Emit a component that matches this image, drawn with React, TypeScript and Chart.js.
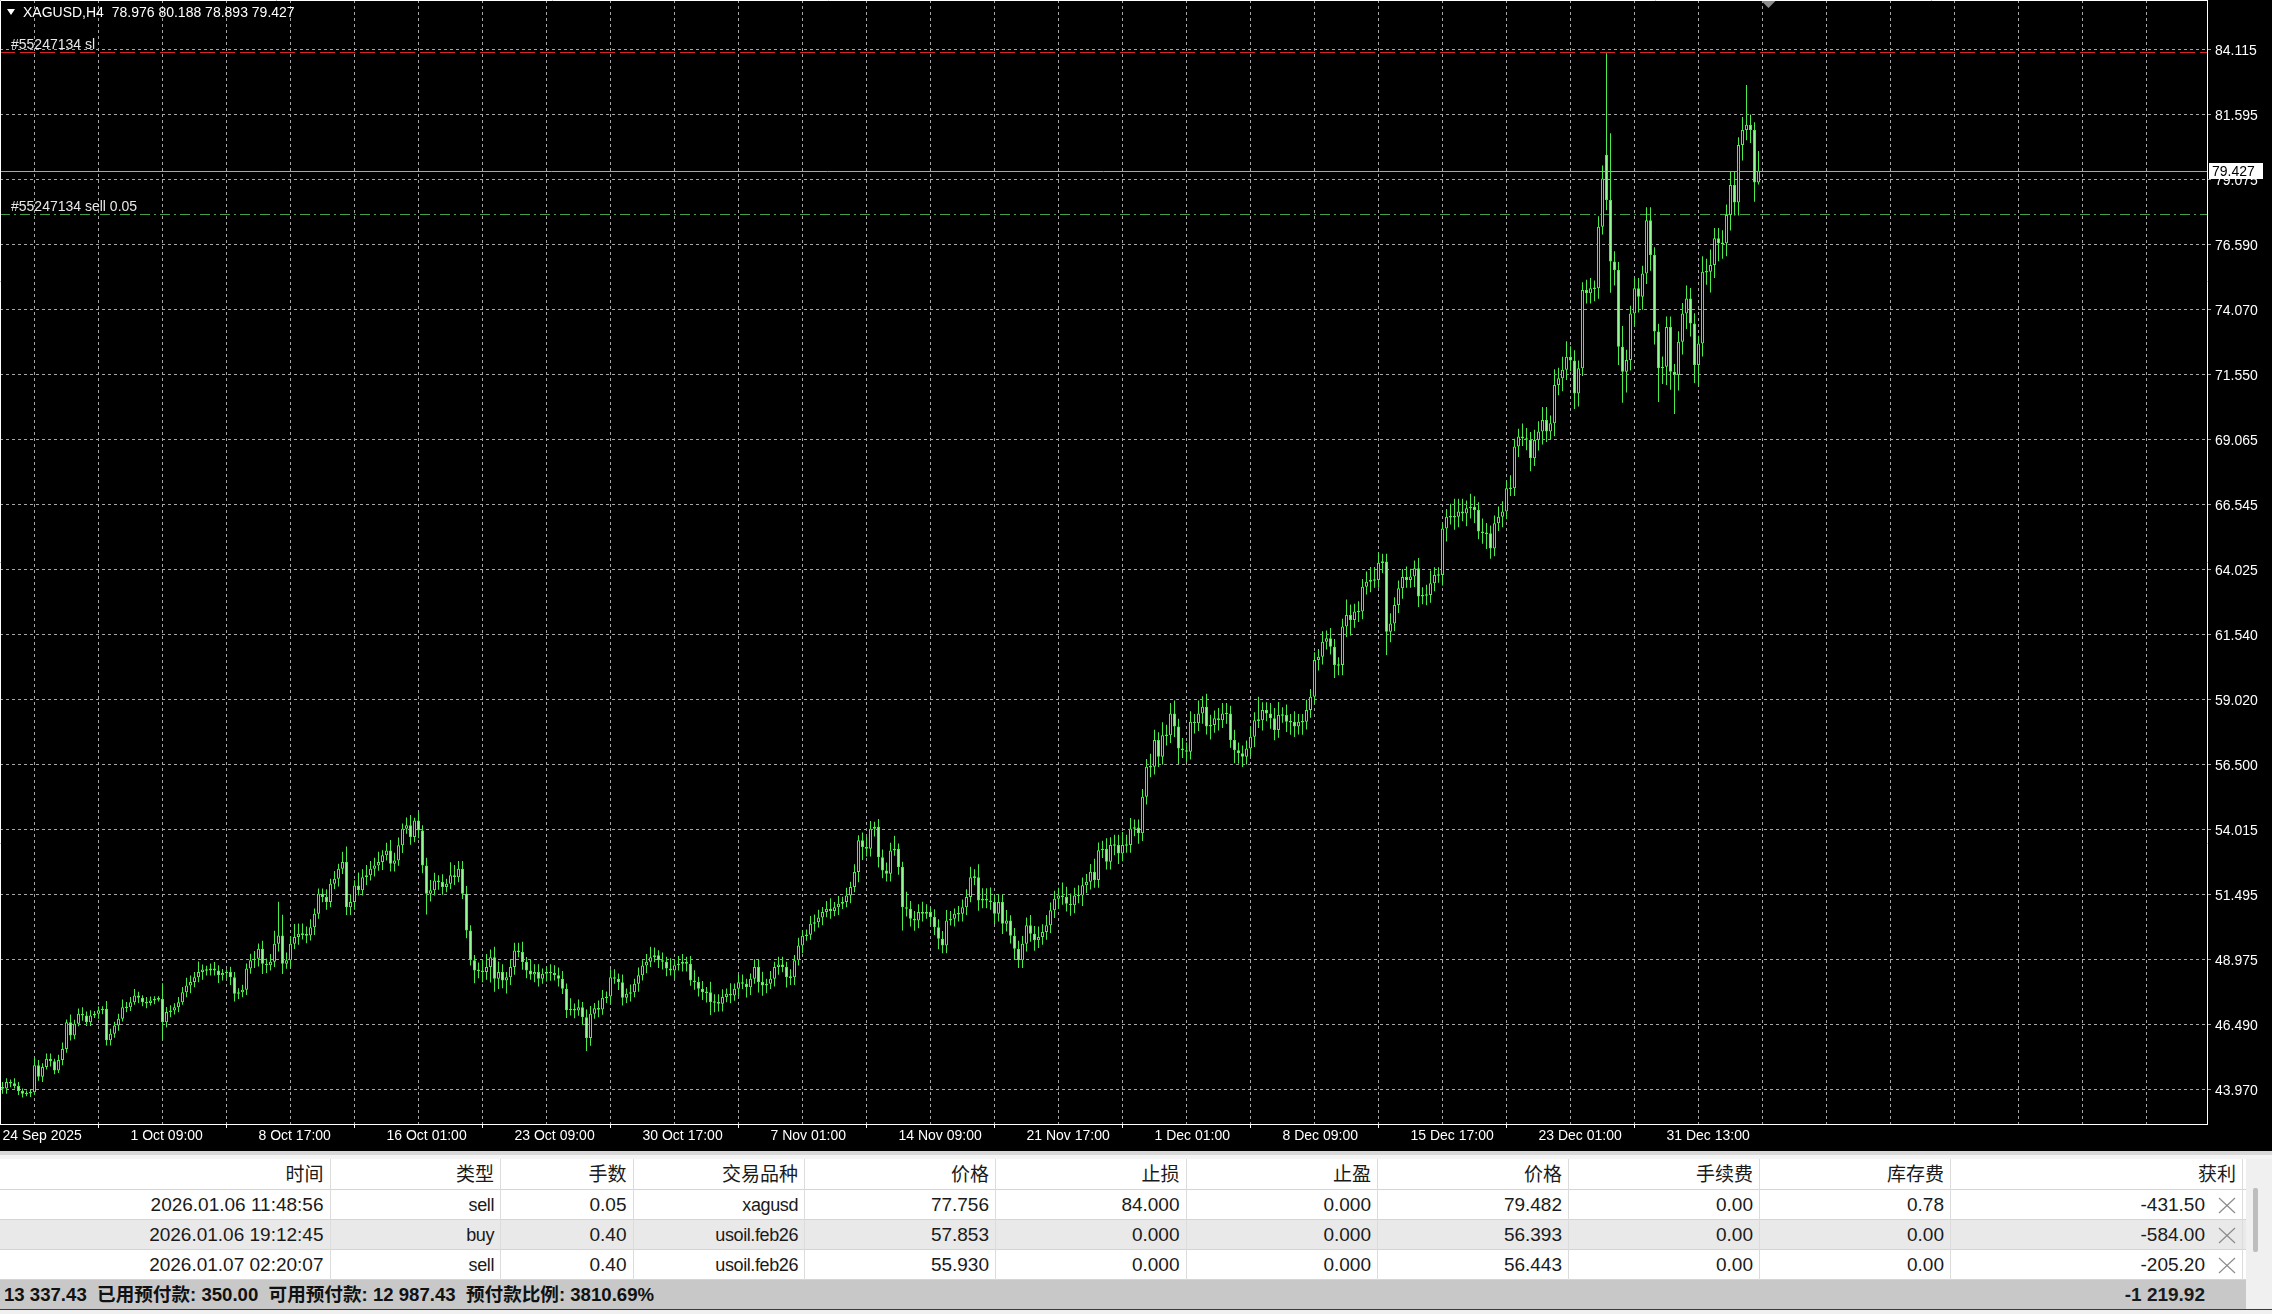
import React, { useEffect, useRef } from 'react';
import { Chart, registerables } from 'chart.js';
Chart.register(...registerables);

// ---------- DATA (XAGUSD, H4) ----------
const closes = [
  44.00,44.25,44.20,44.10,43.90,43.80,43.82,43.86,44.90,44.45,44.83,45.15,45.05,44.70,45.10,45.53,46.56,46.05,46.50,46.89,
  46.82,46.56,46.82,46.89,47.02,47.08,45.86,46.11,46.43,46.69,47.14,47.14,47.33,47.59,47.50,47.33,47.30,47.40,47.46,47.46,
  46.56,46.95,47.01,47.14,47.33,47.72,47.98,48.11,48.30,48.50,48.59,48.56,48.63,48.56,48.37,48.46,48.50,48.30,47.66,47.72,
  47.81,48.63,48.95,49.01,49.40,48.82,48.76,48.89,49.59,49.91,48.82,48.95,49.59,49.85,49.97,49.95,49.91,50.23,50.75,51.52,
  51.39,51.20,51.90,52.10,52.48,52.74,51.00,51.20,51.84,51.65,52.16,52.23,52.48,52.61,52.74,53.00,53.19,52.68,52.80,53.39,
  54.03,54.16,53.71,54.35,53.96,52.61,51.52,51.65,52.03,51.97,51.78,51.90,52.23,52.16,52.48,51.52,50.10,48.95,48.56,48.56,
  48.50,48.69,49.07,48.24,48.50,48.17,48.30,48.69,49.33,49.27,48.88,48.56,48.40,48.50,48.24,48.43,48.50,48.46,48.37,48.24,
  47.85,47.02,47.08,47.01,47.14,46.75,45.95,46.89,47.10,47.05,47.50,47.55,48.30,48.24,48.10,47.50,47.66,47.72,48.04,48.37,
  48.75,48.89,49.07,49.14,48.95,48.89,48.63,48.56,48.76,48.82,48.89,48.82,48.17,48.11,47.85,47.72,47.72,47.34,47.34,47.27,
  47.53,47.66,47.59,47.85,48.10,48.04,47.91,48.24,48.69,48.11,47.98,48.04,48.24,48.69,48.79,48.69,48.30,48.30,48.95,49.52,
  49.90,49.94,50.36,50.42,50.60,50.81,50.94,50.85,51.00,51.13,51.20,51.45,51.78,52.36,53.58,53.32,53.26,54.03,54.10,52.93,
  52.42,52.29,53.19,53.26,52.55,51.00,50.94,50.55,50.49,50.81,50.75,50.81,50.62,50.23,49.78,49.52,50.49,50.55,50.75,50.75,
  51.00,51.39,52.16,52.16,51.26,51.33,51.26,51.20,50.75,51.20,50.36,50.49,49.90,49.40,48.95,49.59,50.30,49.97,49.72,49.85,
  50.04,50.30,50.88,51.33,51.45,51.39,51.13,51.07,51.45,51.45,51.85,51.98,52.37,52.05,53.20,53.26,52.75,53.40,53.40,53.07,
  53.40,53.40,54.04,54.08,53.85,55.26,56.42,56.42,57.45,56.81,57.64,57.64,58.48,57.97,57.13,57.06,57.00,58.16,58.10,58.48,
  58.74,57.97,58.03,58.29,58.22,58.48,58.48,57.45,57.06,56.94,56.81,57.13,57.58,58.22,58.22,58.61,58.48,58.29,57.84,58.42,
  58.42,58.16,58.16,57.97,58.16,58.16,58.61,59.12,60.54,60.67,61.25,61.38,61.05,60.35,60.35,61.83,62.28,62.09,62.41,62.41,
  63.37,63.56,63.63,63.63,64.30,64.34,61.63,61.95,62.66,63.31,63.75,63.63,63.76,64.08,62.99,63.05,63.05,63.50,63.82,63.82,
  65.62,66.07,66.07,66.07,66.27,66.20,66.40,66.46,66.33,65.50,65.43,65.43,64.85,65.82,66.07,66.27,67.17,67.17,68.78,69.17,
  69.10,69.04,68.33,69.03,69.36,69.81,69.36,69.68,71.16,71.42,71.75,72.25,72.10,70.83,71.80,74.82,74.70,74.89,74.89,77.27,
  79.13,78.30,75.92,75.60,72.63,71.67,72.12,73.92,74.89,74.56,75.46,77.52,76.17,73.22,71.80,71.86,73.40,71.67,71.54,72.83,
  73.92,74.50,73.53,71.93,72.76,75.53,75.53,75.79,76.82,76.63,76.63,77.72,78.88,78.20,80.42,81.00,81.20,81.00,78.976,79.427,
];
// upper wick length above the body (price units)
const wickUp = [
  0.2,0.15,0.1,0.2,0.15,0.1,0.1,0.1,0.3,0.2,0.15,0.2,0.2,0.1,0.2,0.25,0.1,0.3,0.15,0.2,
  0.25,0.15,0.2,0.1,0.15,0.1,0.3,0.2,0.15,0.2,0.3,0.2,0.2,0.25,0.15,0.1,0.2,0.15,0.1,0.1,
  0.6,0.2,0.2,0.15,0.2,0.2,0.3,0.25,0.2,0.4,0.2,0.15,0.2,0.25,0.2,0.15,0.1,0.2,0.2,0.15,
  0.2,0.2,0.25,0.3,0.2,0.3,0.2,0.3,0.5,1.3,0.8,0.3,0.3,0.5,0.4,0.4,0.3,0.3,0.2,0.2,
  0.2,0.3,0.2,0.3,0.2,0.4,0.6,0.3,0.2,0.5,0.3,0.4,0.3,0.3,0.4,0.2,0.3,0.4,0.3,0.3,
  0.2,0.3,0.4,0.1,0.3,0.2,0.3,0.4,0.3,0.2,0.3,0.2,0.5,0.4,0.3,0.3,0.3,0.2,0.2,0.3,
  0.4,0.5,0.3,0.4,0.4,0.3,0.2,0.3,0.3,0.3,0.4,0.2,0.4,0.3,0.3,0.2,0.2,0.3,0.3,0.3,
  0.3,0.2,0.4,0.2,0.3,0.2,0.3,0.3,0.2,0.3,0.3,0.2,0.3,0.3,0.2,0.3,0.2,0.3,0.2,0.3,
  0.2,0.3,0.4,0.3,0.2,0.3,0.2,0.4,0.2,0.3,0.3,0.2,0.3,0.4,0.2,0.3,0.2,0.4,0.3,0.3,
  0.3,0.2,0.4,0.2,0.3,0.3,0.2,0.2,0.3,0.3,0.4,0.2,0.3,0.2,0.3,0.3,0.2,0.3,0.2,0.3,
  0.2,0.2,0.3,0.3,0.3,0.2,0.3,0.4,0.2,0.3,0.2,0.3,0.2,0.3,0.2,0.3,0.4,0.3,0.2,0.3,
  0.3,0.3,0.3,0.5,0.2,0.2,0.6,0.3,0.3,0.3,0.4,0.3,0.2,0.3,0.3,0.3,0.4,0.3,0.2,0.3,
  0.3,0.3,0.4,0.3,0.5,0.4,0.4,0.5,0.3,0.3,0.3,0.4,0.2,0.3,0.3,0.3,0.3,0.4,0.3,0.4,
  0.3,0.4,0.3,0.3,0.3,0.5,0.4,0.4,0.3,0.4,0.3,0.3,0.3,0.5,0.3,0.3,0.4,0.3,0.4,0.4,
  0.5,0.4,0.4,0.3,0.3,0.3,0.3,0.5,0.4,0.3,0.5,0.4,0.4,0.5,0.3,0.4,0.3,0.4,0.3,0.5,
  0.4,0.5,0.4,0.3,0.4,0.4,0.4,0.3,0.4,0.3,0.3,0.3,0.4,0.3,0.9,0.3,0.3,0.4,0.4,0.5,
  0.3,0.4,0.3,0.4,0.3,0.3,0.4,0.3,0.3,0.3,0.4,0.3,0.4,0.3,0.3,0.3,0.6,0.4,0.3,0.4,
  0.3,0.4,0.5,0.5,0.4,0.3,0.3,0.4,0.3,0.3,0.3,0.4,0.3,0.3,0.4,0.3,0.4,0.5,0.3,0.3,
  0.2,0.3,0.5,0.7,0.5,0.5,0.3,0.5,0.4,0.3,0.5,0.4,0.3,0.3,0.4,0.4,0.3,0.5,0.3,0.3,
  0.5,0.4,0.3,0.4,0.4,0.5,0.5,0.3,0.6,0.4,0.5,0.6,0.4,0.4,0.3,0.3,0.4,0.4,0.3,0.4,
  0.5,3.92,2.57,0.4,0.3,0.8,0.4,0.3,0.4,0.4,0.3,0.5,0.5,0.3,0.3,0.4,0.4,0.4,0.3,0.4,
  0.4,0.5,0.4,0.4,0.3,0.6,0.5,0.6,0.4,0.4,0.5,0.4,0.5,0.5,0.3,0.5,1.54,0.4,0.3,0.761,
];
// lower wick length below the body (price units)
const wickDn = [
  0.2,0.2,0.15,0.1,0.15,0.15,0.1,0.15,0.1,0.15,0.2,0.1,0.2,0.15,0.1,0.2,0.15,0.2,0.15,0.1,
  0.2,0.15,0.15,0.1,0.2,0.15,0.2,0.2,0.15,0.2,0.1,0.2,0.15,0.1,0.2,0.15,0.2,0.1,0.15,0.1,
  0.7,0.2,0.2,0.15,0.2,0.1,0.2,0.3,0.2,0.2,0.3,0.2,0.2,0.2,0.3,0.2,0.2,0.3,0.3,0.2,
  0.2,0.2,0.2,0.3,0.3,0.4,0.3,0.2,0.2,0.3,0.4,0.2,0.3,0.2,0.3,0.2,0.3,0.2,0.3,0.2,
  0.2,0.3,0.2,0.2,0.3,0.2,0.3,0.3,0.3,0.2,0.2,0.3,0.2,0.3,0.2,0.3,0.2,0.3,0.3,0.2,
  0.3,0.2,0.3,0.2,0.3,0.3,0.8,0.3,0.2,0.3,0.3,0.2,0.2,0.3,0.2,0.2,0.3,0.2,0.5,0.3,
  0.4,0.3,0.6,0.5,0.4,0.3,0.5,0.3,0.3,0.2,0.3,0.3,0.2,0.3,0.3,0.2,0.3,0.3,0.2,0.3,
  0.2,0.3,0.2,0.3,0.2,0.3,0.5,0.3,0.2,0.3,0.2,0.2,0.3,0.2,0.3,0.3,0.2,0.3,0.2,0.3,
  0.2,0.3,0.2,0.2,0.3,0.3,0.3,0.2,0.3,0.2,0.3,0.3,0.2,0.3,0.3,0.3,0.4,0.5,0.4,0.3,
  0.3,0.2,0.3,0.2,0.3,0.2,0.4,0.3,0.2,0.4,0.4,0.3,0.2,0.3,0.3,0.2,0.4,0.3,0.3,0.2,
  0.3,0.2,0.2,0.3,0.2,0.3,0.2,0.3,0.2,0.3,0.2,0.2,0.3,0.2,0.4,0.5,0.3,0.3,0.3,0.4,
  0.3,0.3,0.3,0.2,0.3,0.9,0.3,0.3,0.4,0.3,0.3,0.2,0.3,0.3,0.4,0.3,0.3,0.2,0.3,0.3,
  0.3,0.3,0.2,0.3,0.4,0.3,0.3,0.3,0.4,0.3,0.4,0.3,0.3,0.4,0.3,0.3,0.3,0.3,0.4,0.3,
  0.3,0.3,0.3,0.3,0.4,0.3,0.3,0.4,0.3,0.3,0.4,0.3,0.3,0.3,0.3,0.3,0.3,0.3,0.4,0.4,
  0.3,0.3,0.3,0.3,0.4,0.3,0.3,0.4,0.3,0.4,0.3,0.4,0.3,0.4,0.6,0.3,0.4,0.3,0.4,0.3,
  0.4,0.3,0.5,0.3,0.4,0.3,0.4,0.3,0.5,0.4,0.4,0.3,0.3,0.4,0.3,0.4,0.3,0.4,0.4,0.3,
  0.3,0.4,0.5,0.4,0.3,0.5,0.3,0.3,0.3,0.4,0.3,0.3,0.3,0.5,0.4,0.4,0.4,0.6,0.3,0.4,
  0.3,0.3,0.4,0.3,0.3,0.4,0.9,0.4,0.3,0.3,0.4,0.3,0.3,0.4,0.4,0.3,0.4,0.3,0.3,0.3,
  0.4,0.5,0.3,0.5,0.4,0.3,0.5,0.4,0.5,0.3,0.4,0.6,0.4,0.3,0.3,0.4,0.3,0.3,0.3,0.4,
  0.3,0.4,0.5,0.3,0.4,0.5,0.4,0.3,0.5,0.4,0.5,0.4,0.4,0.6,0.5,0.3,0.4,0.4,0.5,0.4,
  0.3,0.4,1.2,0.6,0.7,1.2,0.8,0.4,0.5,0.6,0.5,0.4,0.6,0.5,1.3,0.6,0.7,0.7,1.5,0.6,
  0.5,0.6,0.5,0.7,0.8,0.5,0.5,0.8,0.5,0.7,0.6,0.5,0.6,0.5,0.5,0.6,0.4,0.5,0.75,0.083,
];
const firstOpen = 44.05;
// bars that opened with a gap (open != previous close)
const gapOpens: Record<number, number> = { 401: 80.04 };

const xTickLabels = ['24 Sep 2025', '1 Oct 09:00', '8 Oct 17:00', '16 Oct 01:00', '23 Oct 09:00', '30 Oct 17:00', '7 Nov 01:00', '14 Nov 09:00', '21 Nov 17:00', '1 Dec 01:00', '8 Dec 09:00', '15 Dec 17:00', '23 Dec 01:00', '31 Dec 13:00'];
const yTickLabels = ['84.115', '81.595', '79.075', '76.590', '74.070', '71.550', '69.065', '66.545', '64.025', '61.540', '59.020', '56.500', '54.015', '51.495', '48.975', '46.490', '43.970'];
const BARS_PER_LABEL = 32;
const BARS_PER_GRID = 16;
const TOTAL_SLOTS = 551.75;

const headerText = 'XAGUSD,H4  78.976 80.188 78.893 79.427';
const slPrice = 84.0;
const slLabel = '#55247134 sl';
const openPrice = 77.756;
const openLabel = '#55247134 sell 0.05';
const bidPrice = 79.427;

const colHeaders = ['时间', '类型', '手数', '交易品种', '价格', '止损', '止盈', '价格', '手续费', '库存费', '获利'];
const orderTimes = ['2026.01.06 11:48:56', '2026.01.06 19:12:45', '2026.01.07 02:20:07'];
const orderTypes = ['sell', 'buy', 'sell'];
const orderLots = ['0.05', '0.40', '0.40'];
const orderSymbols = ['xagusd', 'usoil.feb26', 'usoil.feb26'];
const orderOpen = ['77.756', '57.853', '55.930'];
const orderSL = ['84.000', '0.000', '0.000'];
const orderTP = ['0.000', '0.000', '0.000'];
const orderPrice = ['79.482', '56.393', '56.443'];
const orderComm = ['0.00', '0.00', '0.00'];
const orderSwap = ['0.78', '0.00', '0.00'];
const orderProfit = ['-431.50', '-584.00', '-205.20'];
const footerSummary = '13 337.43  已用预付款: 350.00  可用预付款: 12 987.43  预付款比例: 3810.69%';
const footerProfit = '-1 219.92';

// ---------- derived candle table ----------
const opens = closes.map((c, i) => (gapOpens[i] !== undefined ? gapOpens[i] : i === 0 ? firstOpen : closes[i - 1]));
const highs = closes.map((c, i) => Math.max(opens[i], c) + wickUp[i]);
const lows = closes.map((c, i) => Math.min(opens[i], c) - wickDn[i]);

const GREEN = '#4aec4a';
const FILL = '#94fa94';
const GRID = '#a6a6a6';
const FONT = '"Liberation Sans", Arial, sans-serif';

const yStep = (parseFloat(yTickLabels[0]) - parseFloat(yTickLabels[yTickLabels.length - 1])) / (yTickLabels.length - 1);
const yTop = parseFloat(yTickLabels[0]);
const CANVAS_W = 2272;
const CANVAS_H = 1151;
const PLOT_RIGHT = 2207;
const PLOT_BOTTOM = 1124;
const TICK_GAP_PX = 65;
const FIRST_TICK_PX = 49.3;
const pxPerUnit = TICK_GAP_PX / yStep;
const Y_MAX = yTop + FIRST_TICK_PX / pxPerUnit;
const Y_MIN = Y_MAX - PLOT_BOTTOM / pxPerUnit;

const mtPlugin = {
  id: 'mt4',
  beforeDraw(chart: any) {
    const { ctx, width, height } = chart;
    ctx.save();
    ctx.fillStyle = '#000';
    ctx.fillRect(0, 0, width, height);
    ctx.restore();
  },
  beforeDatasetsDraw(chart: any) {
    const { ctx, chartArea } = chart;
    const y = chart.scales.y;
    ctx.save();
    ctx.lineWidth = 1;
    // stop loss
    const ySl = Math.round(y.getPixelForValue(slPrice)) + 0.5;
    ctx.strokeStyle = '#d82424';
    ctx.setLineDash([15, 5]);
    ctx.beginPath(); ctx.moveTo(chartArea.left, ySl); ctx.lineTo(chartArea.right, ySl); ctx.stroke();
    // order open
    const yOp = Math.round(y.getPixelForValue(openPrice)) + 0.5;
    ctx.strokeStyle = '#45a045';
    ctx.setLineDash([10, 4, 2, 4]);
    ctx.beginPath(); ctx.moveTo(chartArea.left, yOp); ctx.lineTo(chartArea.right, yOp); ctx.stroke();
    // bid
    const yB = Math.round(y.getPixelForValue(bidPrice)) + 0.5;
    ctx.strokeStyle = '#a8a8a8';
    ctx.setLineDash([]);
    ctx.beginPath(); ctx.moveTo(chartArea.left, yB); ctx.lineTo(chartArea.right, yB); ctx.stroke();
    // labels
    ctx.fillStyle = '#e8e8e8';
    ctx.font = `14px ${FONT}`;
    ctx.textBaseline = 'alphabetic';
    ctx.textAlign = 'left';
    ctx.fillText(slLabel, 11, ySl - 4);
    ctx.fillText(openLabel, 11, yOp - 4);
    ctx.restore();
  },
  afterDraw(chart: any) {
    const { ctx, chartArea } = chart;
    const x = chart.scales.x;
    const y = chart.scales.y;
    ctx.save();
    // frame
    ctx.strokeStyle = '#ffffff';
    ctx.lineWidth = 1;
    ctx.beginPath();
    ctx.moveTo(0.5, chartArea.bottom + 0.5);
    ctx.lineTo(0.5, 0.5);
    ctx.lineTo(chartArea.right + 0.5, 0.5);
    ctx.stroke();
    // header
    ctx.fillStyle = '#ffffff';
    ctx.beginPath();
    ctx.moveTo(7, 9); ctx.lineTo(15, 9); ctx.lineTo(11, 15); ctx.closePath(); ctx.fill();
    ctx.font = `14px ${FONT}`;
    ctx.textBaseline = 'middle';
    ctx.textAlign = 'left';
    ctx.fillText(headerText, 23, 13);
    // bid price box on the axis
    const yB = Math.round(y.getPixelForValue(bidPrice));
    ctx.fillStyle = '#ffffff';
    ctx.fillRect(chartArea.right + 2, yB - 8, 54, 16);
    ctx.fillStyle = '#000000';
    ctx.fillText(bidPrice.toFixed(3), chartArea.right + 5, yB + 1);
    // chart shift marker
    const xs = x.getPixelForValue(closes.length + 1.5);
    ctx.fillStyle = '#8a8a8a';
    ctx.beginPath();
    ctx.moveTo(xs - 7, 1); ctx.lineTo(xs + 7, 1); ctx.lineTo(xs, 8); ctx.closePath(); ctx.fill();
    ctx.restore();
  },
};

function buildConfig(): any {
  const bodyData = closes.map((c, i) => {
    const lo = Math.min(opens[i], c);
    const hi = Math.max(opens[i], c);
    const mid = (lo + hi) / 2;
    return { x: i, y: hi - lo < 0.06 ? [mid - 0.03, mid + 0.03] : [lo, hi] };
  });
  const wickData = closes.map((c, i) => ({ x: i, y: [lows[i], highs[i]] }));
  const gridTicks: number[] = [];
  for (let v = 0; v <= TOTAL_SLOTS; v += BARS_PER_GRID) gridTicks.push(v);
  const labelAt = (v: number) => (v % BARS_PER_LABEL === 0 ? xTickLabels[v / BARS_PER_LABEL] : undefined);

  return {
    type: 'bar',
    data: {
      datasets: [
        {
          label: 'body',
          data: bodyData,
          barThickness: 3,
          borderWidth: 1,
          borderSkipped: false,
          inflateAmount: 0,
          grouped: false,
          borderColor: GREEN,
          backgroundColor: (ctx: any) => {
            const i = ctx.dataIndex;
            if (i === undefined) return '#000';
            return closes[i] >= opens[i] ? '#000000' : FILL;
          },
        },
        {
          label: 'wick',
          data: wickData,
          barThickness: 1,
          borderWidth: 0,
          inflateAmount: 0,
          grouped: false,
          backgroundColor: GREEN,
        },
      ],
    },
    options: {
      responsive: false,
      maintainAspectRatio: false,
      animation: false,
      devicePixelRatio: 1,
      events: [],
      layout: { padding: 0 },
      plugins: { legend: { display: false }, tooltip: { enabled: false } },
      scales: {
        x: {
          type: 'linear',
          position: 'bottom',
          min: -0.625,
          max: -0.625 + TOTAL_SLOTS,
          offset: false,
          afterBuildTicks: (s: any) => { s.ticks = gridTicks.map((v) => ({ value: v })); },
          afterFit: (s: any) => {
            s.height = CANVAS_H - PLOT_BOTTOM;
            s.paddingLeft = 0; s.paddingRight = 0; s.paddingTop = 0; s.paddingBottom = 0;
          },
          ticks: {
            autoSkip: false,
            maxRotation: 0,
            minRotation: 0,
            align: 'start',
            padding: 0,
            color: '#ffffff',
            font: { family: FONT, size: 14 },
            callback: (v: number) => labelAt(v) ?? '',
          },
          grid: {
            color: (c: any) => (c.tick && c.tick.value === 0 ? 'rgba(0,0,0,0)' : GRID),
            lineWidth: 1,
            tickLength: 4,
            tickColor: (c: any) => (c.tick && labelAt(c.tick.value) !== undefined ? '#ffffff' : 'rgba(0,0,0,0)'),
          },
          border: { display: true, color: '#ffffff', width: 1, dash: [3, 3] },
        },
        y: {
          type: 'linear',
          position: 'right',
          min: Y_MIN,
          max: Y_MAX,
          afterBuildTicks: (s: any) => {
            s.ticks = yTickLabels.map((_, k) => ({ value: yTop - (yTickLabels.length - 1 - k) * yStep }));
          },
          afterFit: (s: any) => {
            s.width = CANVAS_W - PLOT_RIGHT;
            s.paddingLeft = 0; s.paddingRight = 0; s.paddingTop = 0; s.paddingBottom = 0;
          },
          ticks: {
            padding: 4,
            labelOffset: 2,
            color: '#ffffff',
            font: { family: FONT, size: 14 },
            callback: (v: number) => yTickLabels[Math.round((yTop - v) / yStep)] ?? '',
          },
          grid: { color: GRID, lineWidth: 1, tickLength: 4, tickColor: GRID },
          border: { display: true, color: '#ffffff', width: 1, dash: [3, 3] },
        },
      },
    },
    plugins: [mtPlugin],
  };
}

// ---------- table layout ----------
const colEdges = [0, 329.5, 500, 632.5, 804, 995, 1185.5, 1377, 1568, 1759, 1950, 2242];
const ROW_TOPS = [1190, 1220, 1250];
const ROW_BGS = ['#ffffff', '#e9e9e9', '#ffffff'];
const TABLE_FONT = '"Liberation Sans", "Noto Sans CJK SC", Arial, sans-serif';
const TEXT_COLS = [1, 3];

function Cell({ left, width, top, height, text, pr, bold, size, spacing }: any) {
  return (
    <div
      style={{
        position: 'absolute', left, top, width, height, boxSizing: 'border-box', paddingRight: pr,
        textAlign: 'right', lineHeight: `${height}px`, fontSize: size ?? 19, color: '#1a1a1a',
        fontWeight: bold ? 700 : 400, whiteSpace: 'pre', overflow: 'hidden', letterSpacing: spacing ?? 0,
      }}
    >
      {text}
    </div>
  );
}

export default function App() {
  const ref = useRef<HTMLCanvasElement>(null);
  useEffect(() => {
    document.body.style.margin = '0';
    const chart = new Chart(ref.current as HTMLCanvasElement, buildConfig());
    return () => chart.destroy();
  }, []);

  const rowsCols = [orderTimes, orderTypes, orderLots, orderSymbols, orderOpen, orderSL, orderTP, orderPrice, orderComm, orderSwap];
  const seps = colEdges.slice(1);

  return (
    <div style={{ position: 'relative', width: 2272, height: 1314, overflow: 'hidden', background: '#f0f0f0', fontFamily: TABLE_FONT }}>
      <canvas ref={ref} width={CANVAS_W} height={CANVAS_H} style={{ position: 'absolute', left: 0, top: 0, width: CANVAS_W, height: CANVAS_H }} />
      {/* panel strip */}
      <div style={{ position: 'absolute', left: 0, top: 1151, width: 2272, height: 4, background: '#d8d8d8' }} />
      <div style={{ position: 'absolute', left: 0, top: 1155, width: 2272, height: 4, background: '#f4f4f4' }} />
      {/* header row */}
      <div style={{ position: 'absolute', left: 0, top: 1159, width: 2246, height: 31, background: '#ffffff', borderBottom: '1px solid #d4d4d4', boxSizing: 'border-box' }} />
      {ROW_TOPS.map((t, r) => (
        <div key={'bg' + r} style={{ position: 'absolute', left: 0, top: t, width: 2246, height: 30, background: ROW_BGS[r], borderBottom: '1px solid #d4d4d4', boxSizing: 'border-box' }} />
      ))}
      {/* column separators */}
      {seps.map((x, i) => (
        <div key={'sep' + i} style={{ position: 'absolute', left: Math.round(x), top: 1159, width: 1, height: 121, background: '#dcdcdc' }} />
      ))}
      {/* header texts */}
      {colHeaders.map((h, c) => (
        <Cell key={'h' + c} left={colEdges[c]} width={colEdges[c + 1] - colEdges[c]} top={1159} height={31} text={h} pr={6} size={19} />
      ))}
      {/* rows */}
      {ROW_TOPS.map((t, r) => (
        <React.Fragment key={'r' + r}>
          {rowsCols.map((col, c) => (
            <Cell key={'c' + c} left={colEdges[c]} width={colEdges[c + 1] - colEdges[c]} top={t} height={30} text={col[r]} pr={6}
              size={TEXT_COLS.includes(c) ? 18 : 19} spacing={TEXT_COLS.includes(c) ? -0.4 : 0} />
          ))}
          <Cell left={colEdges[10]} width={colEdges[11] - colEdges[10]} top={t} height={30} text={orderProfit[r]} pr={37} />
          <svg style={{ position: 'absolute', left: 2218, top: t + 7 }} width={18} height={17}>
            <line x1={1} y1={1} x2={17} y2={16} stroke="#8c8c8c" strokeWidth={1.2} />
            <line x1={17} y1={1} x2={1} y2={16} stroke="#8c8c8c" strokeWidth={1.2} />
          </svg>
        </React.Fragment>
      ))}
      {/* footer */}
      <div style={{ position: 'absolute', left: 0, top: 1280, width: 2246, height: 29, background: '#c8c8c8' }} />
      <div style={{ position: 'absolute', left: 4, top: 1280, height: 29, lineHeight: '29px', fontSize: 18.6, fontWeight: 700, color: '#111', whiteSpace: 'pre' }}>
        {footerSummary}
      </div>
      <Cell left={colEdges[10]} width={colEdges[11] - colEdges[10]} top={1280} height={29} text={footerProfit} pr={37} bold />
      <div style={{ position: 'absolute', left: 0, top: 1309, width: 2272, height: 1, background: '#3a3a3a' }} />
      {/* scrollbar */}
      <div style={{ position: 'absolute', left: 2246, top: 1159, width: 26, height: 150, background: '#f0f0f0' }} />
      <div style={{ position: 'absolute', left: 2253, top: 1188, width: 5, height: 64, background: '#bdbdbd', borderRadius: 2 }} />
    </div>
  );
}
